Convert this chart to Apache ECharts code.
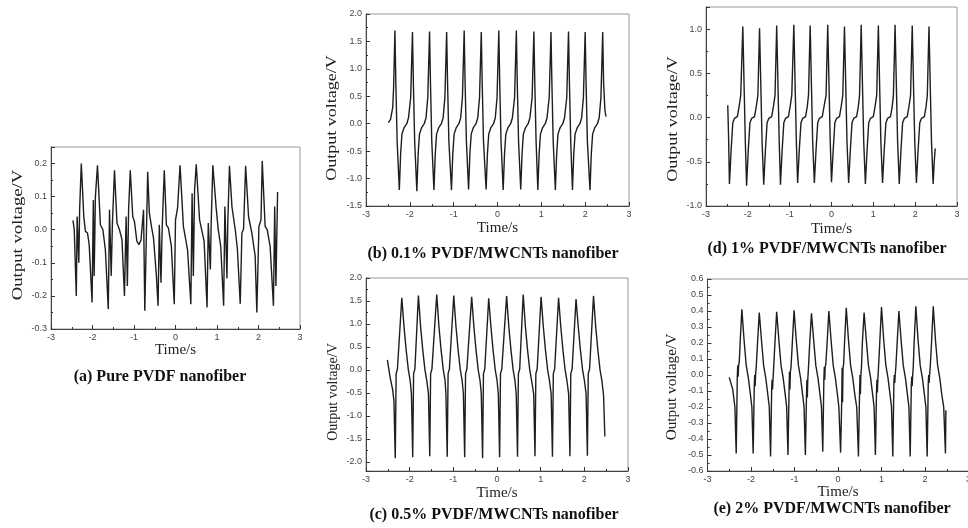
<!DOCTYPE html>
<html><head><meta charset="utf-8">
<script src="https://cdn.jsdelivr.net/npm/echarts@6/dist/echarts.min.js"></script>
<style>html,body{margin:0;padding:0;background:#fff}#c{width:968px;height:528px}</style>
</head><body><div id="c"></div>
<script>
// ---------------- data ----------------
const captions = [
  '(a) Pure PVDF nanofiber',
  '(b) 0.1% PVDF/MWCNTs nanofiber',
  '(c) 0.5% PVDF/MWCNTs nanofiber',
  '(d) 1% PVDF/MWCNTs nanofiber',
  '(e) 2% PVDF/MWCNTs nanofiber'
];
const xName = 'Time/s';
const yName = 'Output voltage/V';
const xRange = [-3, 3, 1];
// [min, max, label step] for each panel a..e
const yRanges = [[-0.3, 0.25, 0.1], [-1.5, 2.0, 0.5], [-2.2, 2.0, 0.5], [-1.0, 1.25, 0.5], [-0.6, 0.6, 0.1]];

// (a) Pure PVDF  [time, voltage]
const pvdfPure = [
[-2.47,0.028],[-2.44,0.0],[-2.39,-0.20],[-2.37,0.04],[-2.33,-0.10],[-2.31,0.06],[-2.27,0.20],[-2.21,0.04],[-2.17,-0.005],[-2.12,-0.01],[-2.08,-0.045],[-2.01,-0.22],
[-1.98,0.09],[-1.96,-0.14],[-1.93,0.10],[-1.88,0.195],[-1.81,0.015],[-1.75,0.0],[-1.69,-0.06],[-1.62,-0.24],
[-1.59,0.06],[-1.55,-0.14],[-1.52,0.02],[-1.47,0.18],[-1.41,0.02],[-1.35,0.0],[-1.29,-0.03],[-1.23,-0.20],
[-1.19,0.04],[-1.16,-0.17],[-1.13,0.06],[-1.09,0.18],[-1.03,0.04],[-0.99,0.025],[-0.93,-0.035],[-0.88,-0.045],[-0.83,-0.03],[-0.77,0.06],[-0.74,-0.245],
[-0.67,0.175],[-0.63,0.05],[-0.58,0.01],[-0.53,-0.025],[-0.46,-0.14],[-0.42,-0.23],
[-0.39,0.015],[-0.35,-0.16],[-0.32,0.01],[-0.27,0.18],[-0.22,0.015],[-0.17,0.005],[-0.10,-0.05],[-0.03,-0.225],
[0.0,0.03],[0.05,0.066],[0.11,0.195],[0.19,0.01],[0.23,0.005],[0.29,-0.06],[0.37,-0.225],
[0.40,0.11],[0.43,-0.14],[0.46,0.12],[0.50,0.198],[0.58,0.03],[0.63,0.0],[0.69,-0.035],[0.76,-0.235],
[0.79,0.02],[0.84,-0.12],[0.86,0.02],[0.90,0.195],[0.98,0.066],[1.03,0.0],[1.09,-0.05],[1.16,-0.23],
[1.19,0.07],[1.24,-0.147],[1.26,0.02],[1.30,0.193],[1.36,0.07],[1.44,0.0],[1.49,-0.056],[1.56,-0.224],
[1.60,-0.01],[1.64,0.002],[1.69,0.193],[1.76,0.04],[1.84,-0.01],[1.92,-0.08],[1.96,-0.25],
[2.01,0.01],[2.06,0.03],[2.09,0.208],[2.16,0.01],[2.21,0.0],[2.28,-0.05],[2.36,-0.23],
[2.39,0.07],[2.42,-0.17],[2.46,0.114]
];

// (b) 0.1% PVDF/MWCNTs
const pvdf01 = [
[-2.49,0.02],[-2.44,0.08],[-2.39,0.30],[-2.37,0.66],[-2.34,1.70],[-2.32,0.78],[-2.29,-0.31],[-2.24,-1.21],
[-2.21,-0.55],[-2.18,-0.19],[-2.13,-0.07],[-2.07,0.0],[-2.03,0.11],[-1.98,0.48],[-1.94,1.67],[-1.92,0.78],[-1.89,-0.31],[-1.84,-1.23],
[-1.81,-0.55],[-1.78,-0.19],[-1.73,-0.07],[-1.67,0.0],[-1.63,0.11],[-1.59,0.48],[-1.55,1.68],[-1.53,0.78],[-1.50,-0.31],[-1.45,-1.21],
[-1.42,-0.55],[-1.39,-0.19],[-1.34,-0.07],[-1.28,0.0],[-1.24,0.11],[-1.20,0.48],[-1.16,1.67],[-1.14,0.78],[-1.11,-0.31],[-1.05,-1.21],
[-1.02,-0.55],[-0.99,-0.19],[-0.94,-0.07],[-0.88,0.0],[-0.84,0.11],[-0.80,0.48],[-0.76,1.70],[-0.74,0.78],[-0.71,-0.31],[-0.66,-1.20],
[-0.63,-0.55],[-0.60,-0.19],[-0.55,-0.07],[-0.49,0.0],[-0.45,0.11],[-0.41,0.48],[-0.37,1.67],[-0.35,0.78],[-0.32,-0.31],[-0.26,-1.20],
[-0.23,-0.55],[-0.20,-0.19],[-0.15,-0.07],[-0.09,0.0],[-0.05,0.11],[-0.01,0.48],[0.03,1.70],[0.05,0.78],[0.08,-0.31],[0.13,-1.21],
[0.16,-0.55],[0.19,-0.19],[0.24,-0.07],[0.30,0.0],[0.34,0.11],[0.39,0.48],[0.43,1.70],[0.45,0.78],[0.48,-0.31],[0.53,-1.20],
[0.56,-0.55],[0.59,-0.19],[0.64,-0.07],[0.70,0.0],[0.74,0.11],[0.79,0.48],[0.83,1.68],[0.85,0.78],[0.88,-0.31],[0.92,-1.21],
[0.95,-0.55],[0.98,-0.19],[1.03,-0.07],[1.09,0.0],[1.13,0.11],[1.18,0.48],[1.22,1.67],[1.24,0.78],[1.27,-0.31],[1.32,-1.21],
[1.35,-0.55],[1.38,-0.19],[1.43,-0.07],[1.49,0.0],[1.53,0.11],[1.58,0.48],[1.62,1.68],[1.64,0.78],[1.67,-0.31],[1.71,-1.21],
[1.74,-0.55],[1.77,-0.19],[1.82,-0.07],[1.88,0.0],[1.92,0.11],[1.96,0.48],[2.00,1.67],[2.02,0.78],[2.05,-0.31],[2.11,-1.21],
[2.14,-0.55],[2.17,-0.19],[2.22,-0.07],[2.28,0.0],[2.32,0.11],[2.36,0.48],[2.40,1.67],[2.42,0.75],[2.45,0.25],[2.475,0.13]
];

// (c) 0.5% PVDF/MWCNTs
const pvdf05 = [
[-2.51,0.22],[-2.45,-0.15],[-2.39,-0.43],[-2.36,-0.68],[-2.33,-1.92],
[-2.31,-0.08],[-2.28,0.02],[-2.18,1.57],[-2.13,0.95],[-2.08,0.43],[-2.03,0.0],[-1.99,-0.22],[-1.96,-0.52],[-1.93,-1.90],
[-1.91,-0.08],[-1.88,0.02],[-1.80,1.62],[-1.75,0.95],[-1.70,0.43],[-1.65,0.0],[-1.61,-0.22],[-1.57,-0.52],[-1.54,-1.88],
[-1.52,-0.08],[-1.49,0.02],[-1.38,1.64],[-1.33,0.95],[-1.28,0.43],[-1.23,0.0],[-1.19,-0.22],[-1.17,-0.52],[-1.14,-1.89],
[-1.12,-0.08],[-1.09,0.02],[-0.99,1.62],[-0.94,0.95],[-0.89,0.43],[-0.84,0.0],[-0.80,-0.22],[-0.77,-0.52],[-0.74,-1.90],
[-0.72,-0.08],[-0.69,0.02],[-0.58,1.59],[-0.53,0.95],[-0.48,0.43],[-0.43,0.0],[-0.39,-0.22],[-0.36,-0.52],[-0.33,-1.92],
[-0.31,-0.08],[-0.28,0.02],[-0.19,1.56],[-0.14,0.95],[-0.09,0.43],[-0.04,0.0],[0.0,-0.22],[0.03,-0.52],[0.06,-1.90],
[0.08,-0.08],[0.11,0.02],[0.22,1.61],[0.27,0.95],[0.32,0.43],[0.37,0.0],[0.41,-0.22],[0.44,-0.52],[0.47,-1.89],
[0.49,-0.08],[0.52,0.02],[0.60,1.64],[0.65,0.95],[0.70,0.43],[0.75,0.0],[0.79,-0.22],[0.84,-0.52],[0.87,-1.88],
[0.89,-0.08],[0.92,0.02],[1.01,1.59],[1.06,0.95],[1.11,0.43],[1.16,0.0],[1.20,-0.22],[1.24,-0.52],[1.27,-1.89],
[1.29,-0.08],[1.32,0.02],[1.41,1.57],[1.46,0.95],[1.51,0.43],[1.56,0.0],[1.60,-0.22],[1.64,-0.52],[1.67,-1.88],
[1.69,-0.08],[1.72,0.02],[1.81,1.54],[1.86,0.95],[1.91,0.43],[1.96,0.0],[2.00,-0.22],[2.04,-0.52],[2.07,-1.87],
[2.09,-0.08],[2.12,0.02],[2.21,1.61],[2.26,0.95],[2.31,0.43],[2.36,0.0],[2.40,-0.22],[2.44,-0.55],[2.47,-1.45]
];

// (d) 1% PVDF/MWCNTs
const pvdf1 = [
[-2.48,0.14],[-2.46,-0.22],[-2.44,-0.75],
[-2.40,-0.37],[-2.36,-0.06],[-2.32,-0.01],[-2.25,0.01],[-2.21,0.12],[-2.17,0.25],[-2.12,1.03],[-2.085,0.27],[-2.06,-0.27],[-2.03,-0.77],
[-1.99,-0.37],[-1.95,-0.06],[-1.91,-0.01],[-1.84,0.01],[-1.80,0.12],[-1.76,0.25],[-1.72,1.01],[-1.685,0.27],[-1.66,-0.27],[-1.62,-0.76],
[-1.58,-0.37],[-1.54,-0.06],[-1.50,-0.01],[-1.43,0.01],[-1.39,0.12],[-1.35,0.25],[-1.31,1.04],[-1.275,0.27],[-1.25,-0.27],[-1.22,-0.76],
[-1.18,-0.37],[-1.14,-0.06],[-1.10,-0.01],[-1.03,0.01],[-0.99,0.12],[-0.95,0.25],[-0.90,1.05],[-0.865,0.27],[-0.84,-0.27],[-0.81,-0.74],
[-0.77,-0.37],[-0.73,-0.06],[-0.69,-0.01],[-0.62,0.01],[-0.58,0.12],[-0.55,0.25],[-0.51,1.04],[-0.475,0.27],[-0.45,-0.27],[-0.41,-0.74],
[-0.37,-0.37],[-0.33,-0.06],[-0.29,-0.01],[-0.22,0.01],[-0.18,0.12],[-0.13,0.25],[-0.09,1.05],[-0.055,0.27],[-0.03,-0.27],[0.0,-0.73],
[0.04,-0.37],[0.08,-0.06],[0.12,-0.01],[0.19,0.01],[0.23,0.12],[0.27,0.25],[0.31,1.03],[0.345,0.27],[0.37,-0.27],[0.41,-0.74],
[0.45,-0.37],[0.49,-0.06],[0.53,-0.01],[0.60,0.01],[0.64,0.12],[0.67,0.25],[0.71,1.05],[0.745,0.27],[0.77,-0.27],[0.81,-0.75],
[0.85,-0.37],[0.89,-0.06],[0.93,-0.01],[1.00,0.01],[1.04,0.12],[1.08,0.25],[1.12,1.04],[1.155,0.27],[1.18,-0.27],[1.22,-0.74],
[1.26,-0.37],[1.30,-0.06],[1.34,-0.01],[1.41,0.01],[1.45,0.12],[1.48,0.25],[1.52,1.05],[1.555,0.27],[1.58,-0.27],[1.62,-0.75],
[1.66,-0.37],[1.70,-0.06],[1.74,-0.01],[1.81,0.01],[1.85,0.12],[1.89,0.25],[1.93,1.04],[1.965,0.27],[1.99,-0.27],[2.03,-0.74],
[2.07,-0.37],[2.11,-0.06],[2.15,-0.01],[2.22,0.01],[2.26,0.12],[2.29,0.25],[2.33,1.03],[2.365,0.27],[2.39,-0.27],[2.43,-0.75],
[2.455,-0.5],[2.48,-0.35]
];

// (e) 2% PVDF/MWCNTs
const pvdf2 = [
[-2.50,-0.015],[-2.42,-0.09],[-2.37,-0.2],[-2.34,-0.49],
[-2.315,-0.01],[-2.305,0.06],[-2.295,-0.01],[-2.285,0.06],[-2.27,0.08],[-2.25,0.2],[-2.21,0.41],
[-2.16,0.22],[-2.11,0.06],[-2.06,-0.02],[-2.01,-0.13],[-1.98,-0.2],[-1.95,-0.49],
[-1.925,-0.07],[-1.915,0.0],[-1.905,-0.07],[-1.895,0.0],[-1.88,0.05],[-1.85,0.2],[-1.81,0.39],
[-1.76,0.22],[-1.71,0.06],[-1.66,-0.02],[-1.61,-0.13],[-1.58,-0.2],[-1.55,-0.51],
[-1.525,-0.09],[-1.515,-0.03],[-1.505,-0.09],[-1.495,-0.03],[-1.48,0.04],[-1.45,0.2],[-1.41,0.395],
[-1.36,0.22],[-1.31,0.06],[-1.26,-0.02],[-1.21,-0.13],[-1.18,-0.2],[-1.15,-0.50],
[-1.125,-0.09],[-1.115,0.02],[-1.105,-0.09],[-1.095,0.02],[-1.08,0.05],[-1.05,0.2],[-1.01,0.405],
[-0.96,0.22],[-0.91,0.06],[-0.86,-0.02],[-0.81,-0.13],[-0.78,-0.2],[-0.75,-0.50],
[-0.725,-0.14],[-0.715,-0.03],[-0.705,-0.14],[-0.695,-0.03],[-0.68,0.04],[-0.65,0.2],[-0.61,0.385],
[-0.56,0.22],[-0.51,0.06],[-0.46,-0.02],[-0.41,-0.13],[-0.38,-0.2],[-0.35,-0.48],
[-0.325,-0.03],[-0.315,0.05],[-0.305,-0.03],[-0.295,0.05],[-0.28,0.07],[-0.25,0.2],[-0.21,0.40],
[-0.16,0.22],[-0.11,0.06],[-0.06,-0.02],[-0.01,-0.13],[0.02,-0.2],[0.06,-0.485],
[0.085,-0.17],[0.095,0.045],[0.105,-0.17],[0.115,0.045],[0.13,0.07],[0.15,0.2],[0.19,0.42],
[0.24,0.22],[0.29,0.06],[0.34,-0.02],[0.39,-0.13],[0.43,-0.2],[0.47,-0.51],
[0.495,-0.12],[0.505,0.0],[0.515,-0.12],[0.525,0.0],[0.54,0.05],[0.56,0.2],[0.60,0.39],
[0.65,0.22],[0.70,0.06],[0.75,-0.02],[0.80,-0.13],[0.83,-0.2],[0.86,-0.50],
[0.885,-0.11],[0.895,-0.03],[0.905,-0.11],[0.915,-0.03],[0.93,0.04],[0.96,0.2],[1.00,0.425],
[1.05,0.22],[1.10,0.06],[1.15,-0.02],[1.20,-0.13],[1.23,-0.2],[1.26,-0.51],
[1.285,-0.05],[1.295,0.0],[1.305,-0.05],[1.315,0.0],[1.33,0.05],[1.36,0.2],[1.40,0.40],
[1.45,0.22],[1.50,0.06],[1.55,-0.02],[1.60,-0.13],[1.63,-0.2],[1.66,-0.51],
[1.685,-0.07],[1.695,-0.01],[1.705,-0.07],[1.715,-0.01],[1.73,0.05],[1.75,0.2],[1.79,0.43],
[1.84,0.22],[1.89,0.06],[1.94,-0.02],[1.99,-0.13],[2.02,-0.2],[2.05,-0.51],
[2.075,-0.05],[2.085,0.0],[2.095,-0.05],[2.105,0.0],[2.12,0.05],[2.15,0.2],[2.19,0.43],
[2.24,0.22],[2.29,0.06],[2.34,-0.02],[2.39,-0.13],[2.43,-0.2],[2.47,-0.49],[2.48,-0.22]
];

const seriesData = [pvdfPure, pvdf01, pvdf05, pvdf1, pvdf2];

// ---------------- layout / style ----------------
const grids = [
  {left: 51, top: 147, width: 249, height: 182},
  {left: 366, top: 14, width: 263, height: 192},
  {left: 366, top: 278, width: 262, height: 193},
  {left: 706, top: 7, width: 251, height: 199},
  {left: 707.5, top: 279, width: 261, height: 192}
];
// y-axis title: centre x, centre y, font size, stretch along the text
const yTitle = [[18, 235, 15, 1.25], [332, 118, 15, 1.2], [333, 392, 14, 1.0], [673, 119, 15, 1.2], [672, 387, 15, 1.02]];
const xNameGap = [13, 15, 15, 16, 9];
const capPos = [[160, 377], [493, 254], [494, 515], [827, 249], [832, 509]];

const serif = '"Liberation Serif", "DejaVu Serif", serif';
const sans = '"Liberation Sans", Arial, sans-serif';
const tickStyle = {inside: true, length: 4, lineStyle: {color: '#333', width: 1}};
const minorStyle = {show: true, splitNumber: 2, length: 2, lineStyle: {color: '#333', width: 1}};

function fmt(step) {
  return function (v) {
    const r = Math.round(v * 1000) / 1000;
    const k = r / step;
    if (Math.abs(k - Math.round(k)) > 1e-6) return '';
    return step < 1 ? r.toFixed(1) : String(r);
  };
}

const option = {
  animation: false,
  backgroundColor: '#fff',
  grid: grids.map(g => Object.assign({
    show: true, borderColor: '#999', borderWidth: 1, backgroundColor: 'transparent',
    containLabel: false, outerBoundsMode: 'none'
  }, g)),
  xAxis: grids.map((g, i) => ({
    type: 'value', gridIndex: i, min: xRange[0], max: xRange[1], interval: xRange[2],
    name: xName, nameLocation: 'middle', nameGap: xNameGap[i],
    nameTextStyle: {fontFamily: serif, fontSize: 15, color: '#222'},
    axisLine: {show: true, onZero: false, lineStyle: {color: '#444', width: 1}},
    axisTick: tickStyle, minorTick: minorStyle,
    splitLine: {show: false},
    axisLabel: {fontFamily: sans, fontSize: 9, color: '#444', margin: 4, showMinLabel: true, showMaxLabel: true, hideOverlap: false}
  })),
  yAxis: grids.map((g, i) => ({
    type: 'value', gridIndex: i, min: yRanges[i][0], max: yRanges[i][1],
    minInterval: yRanges[i][2], maxInterval: yRanges[i][2], splitNumber: 8,
    axisLine: {show: true, onZero: false, lineStyle: {color: '#444', width: 1}},
    axisTick: tickStyle, minorTick: minorStyle,
    splitLine: {show: false},
    axisLabel: {fontFamily: sans, fontSize: 9, color: '#444', margin: 4, formatter: fmt(yRanges[i][2]), hideOverlap: false}
  })),
  series: seriesData.map((d, i) => ({
    type: 'line', xAxisIndex: i, yAxisIndex: i, data: d,
    showSymbol: false, symbol: 'none', smooth: false,
    lineStyle: {color: '#1e1e1e', width: 1.4},
    emphasis: {disabled: true}
  })),
  graphic: captions.map((t, i) => ({
    type: 'text', x: capPos[i][0], y: capPos[i][1], silent: true,
    style: {text: t, fill: '#111', font: 'bold 16px ' + serif, align: 'center', verticalAlign: 'middle'}
  })).concat(yTitle.map(p => ({
    type: 'text', x: p[0], y: p[1], rotation: Math.PI / 2, scaleX: p[3], scaleY: 1, silent: true,
    style: {text: yName, fill: '#222', font: p[2] + 'px ' + serif, align: 'center', verticalAlign: 'middle'}
  })))
};

const chart = echarts.init(document.getElementById('c'), null, {renderer: 'canvas'});
chart.setOption(option);
</script>
</body></html>
